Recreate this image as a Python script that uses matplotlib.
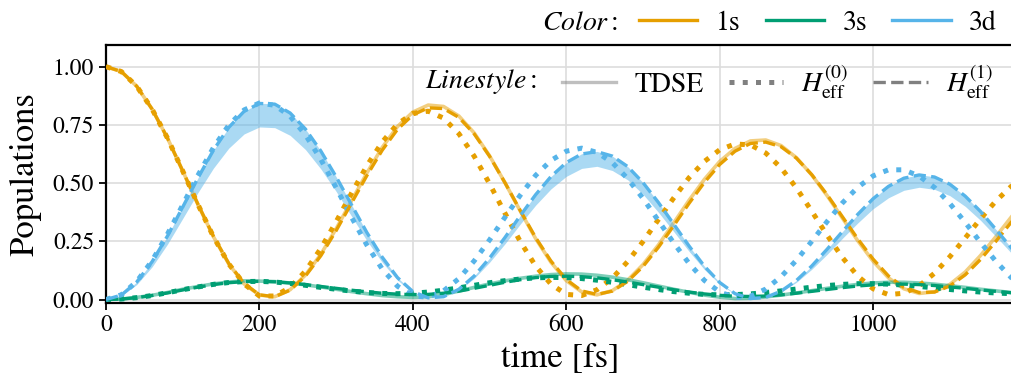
import numpy as np
import matplotlib
matplotlib.use("Agg")
from matplotlib import pyplot as plt
from matplotlib.lines import Line2D

plt.rcParams['font.family'] = 'serif'
plt.rcParams['font.serif'] = ['STIXGeneral', 'Liberation Serif', 'DejaVu Serif']
plt.rcParams['mathtext.fontset'] = 'stix'

# time grid [fs]
time_fs = np.arange(0, 1201, 20)

# 1s populations
pop_1s_tdse = [1.000, 0.979, 0.916, 0.818, 0.694, 0.552, 0.407, 0.270, 0.153, 0.067, 0.019,
               0.012, 0.042, 0.105, 0.194, 0.304, 0.424, 0.543, 0.653, 0.743, 0.805, 0.835,
               0.829, 0.788, 0.715, 0.617, 0.502, 0.380, 0.262, 0.160, 0.081, 0.033,
               0.020, 0.038, 0.083, 0.150, 0.234, 0.329, 0.426, 0.516, 0.593, 0.649, 0.681,
               0.685, 0.661, 0.609, 0.535, 0.446, 0.349, 0.252, 0.164, 0.093, 0.046, 0.026,
               0.033, 0.065, 0.118, 0.189, 0.270, 0.354, 0.435]
pop_1s_h0 = [1.000, 0.979, 0.916, 0.818, 0.694, 0.552, 0.407, 0.270, 0.153, 0.067, 0.015,
             0.015, 0.052, 0.122, 0.219, 0.334, 0.456, 0.574, 0.676, 0.754, 0.799,
             0.809, 0.779, 0.712, 0.615, 0.497, 0.371, 0.249, 0.144, 0.066, 0.022,
             0.017, 0.042, 0.092, 0.163, 0.249, 0.343, 0.436, 0.523, 0.593, 0.643, 0.668,
             0.664, 0.629, 0.565, 0.479, 0.379, 0.276, 0.180, 0.100, 0.046, 0.021,
             0.027, 0.059, 0.113, 0.184, 0.264, 0.347, 0.423, 0.486, 0.530]
pop_1s_h1 = [1.000, 0.979, 0.916, 0.818, 0.694, 0.552, 0.408, 0.272, 0.155, 0.069, 0.020,
             0.012, 0.040, 0.101, 0.188, 0.296, 0.414, 0.532, 0.641, 0.731, 0.793, 0.823,
             0.820, 0.782, 0.711, 0.615, 0.502, 0.382, 0.266, 0.165, 0.086, 0.037,
             0.022, 0.036, 0.078, 0.142, 0.224, 0.317, 0.413, 0.503, 0.580, 0.637, 0.670,
             0.676, 0.656, 0.607, 0.536, 0.450, 0.355, 0.260, 0.173, 0.101, 0.052, 0.030,
             0.032, 0.058, 0.106, 0.172, 0.250, 0.332, 0.413]

# 3s populations
pop_3s_tdse = [0.000, 0.002, 0.009, 0.018, 0.030, 0.044, 0.056, 0.067, 0.075, 0.080, 0.079,
               0.077, 0.071, 0.063, 0.054, 0.044, 0.034, 0.025, 0.017, 0.012, 0.009,
               0.012, 0.022, 0.036, 0.052, 0.067, 0.080, 0.091, 0.100, 0.107, 0.110,
               0.109, 0.104, 0.096, 0.085, 0.072, 0.058, 0.044, 0.031, 0.019, 0.010, 0.004,
               0.005, 0.011, 0.019, 0.028, 0.038, 0.048, 0.057, 0.065, 0.071, 0.074,
               0.074, 0.071, 0.066, 0.059, 0.052, 0.044, 0.037, 0.030, 0.024]
pop_3s_h0 = [0.000, 0.002, 0.008, 0.017, 0.029, 0.042, 0.054, 0.065, 0.073, 0.077, 0.078,
             0.075, 0.069, 0.061, 0.052, 0.044, 0.036, 0.030, 0.026, 0.025, 0.027,
             0.032, 0.040, 0.050, 0.061, 0.072, 0.081, 0.088, 0.093, 0.095, 0.094,
             0.090, 0.083, 0.074, 0.064, 0.053, 0.043, 0.034, 0.027, 0.022, 0.020, 0.021,
             0.024, 0.030, 0.037, 0.045, 0.053, 0.060, 0.065, 0.068, 0.068, 0.066,
             0.062, 0.056, 0.050, 0.043, 0.037, 0.032, 0.028, 0.025, 0.024]
pop_3s_h1 = [0.000, 0.002, 0.008, 0.017, 0.028, 0.041, 0.053, 0.064, 0.072, 0.077, 0.078,
             0.076, 0.071, 0.064, 0.056, 0.048, 0.040, 0.033, 0.027, 0.023, 0.021,
             0.022, 0.027, 0.036, 0.048, 0.061, 0.074, 0.085, 0.094, 0.099, 0.100,
             0.098, 0.093, 0.085, 0.075, 0.064, 0.053, 0.042, 0.032, 0.024, 0.018, 0.014,
             0.013, 0.015, 0.020, 0.027, 0.035, 0.043, 0.051, 0.058, 0.063, 0.066,
             0.066, 0.064, 0.060, 0.054, 0.048, 0.041, 0.035, 0.029, 0.024]

# 3d populations; TDSE oscillates fast, stored as upper/lower envelope
pop_3d_tdse_hi = [0.000, 0.019, 0.075, 0.162, 0.272, 0.397, 0.523, 0.641, 0.739, 0.808, 0.843,
                  0.840, 0.801, 0.732, 0.638, 0.527, 0.407, 0.288, 0.182, 0.094, 0.034, 0.007,
                  0.012, 0.044, 0.101, 0.178, 0.266, 0.360, 0.450, 0.528, 0.588, 0.626,
                  0.636, 0.616, 0.571, 0.502, 0.417, 0.324, 0.230, 0.143, 0.073, 0.025, 0.004,
                  0.009, 0.036, 0.082, 0.144, 0.216, 0.292, 0.366, 0.433, 0.486, 0.522, 0.536,
                  0.527, 0.495, 0.444, 0.378, 0.301, 0.222, 0.147]
pop_3d_tdse_lo = [0.000, 0.016, 0.064, 0.140, 0.237, 0.348, 0.460, 0.564, 0.650, 0.711, 0.741,
                  0.738, 0.705, 0.644, 0.561, 0.464, 0.358, 0.253, 0.160, 0.083, 0.030, 0.006,
                  0.011, 0.040, 0.091, 0.160, 0.239, 0.324, 0.405, 0.475, 0.529, 0.563,
                  0.572, 0.554, 0.514, 0.452, 0.375, 0.292, 0.207, 0.129, 0.066, 0.023, 0.004,
                  0.008, 0.032, 0.074, 0.130, 0.194, 0.263, 0.329, 0.390, 0.437, 0.469, 0.482,
                  0.473, 0.446, 0.400, 0.340, 0.271, 0.200, 0.132]
pop_3d_h0 = [0.000, 0.020, 0.077, 0.166, 0.280, 0.406, 0.534, 0.652, 0.749, 0.814, 0.844,
             0.834, 0.787, 0.707, 0.602, 0.480, 0.354, 0.234, 0.131, 0.057, 0.015,
             0.010, 0.037, 0.090, 0.166, 0.256, 0.353, 0.448, 0.533, 0.597, 0.637,
             0.650, 0.632, 0.588, 0.519, 0.434, 0.339, 0.243, 0.155, 0.082, 0.032, 0.009,
             0.014, 0.045, 0.098, 0.169, 0.250, 0.335, 0.415, 0.482, 0.531, 0.557,
             0.557, 0.530, 0.481, 0.412, 0.331, 0.245, 0.164, 0.094, 0.041]
pop_3d_h1 = [0.000, 0.019, 0.075, 0.162, 0.272, 0.397, 0.523, 0.641, 0.739, 0.808, 0.842,
             0.839, 0.801, 0.732, 0.638, 0.527, 0.407, 0.288, 0.182, 0.094, 0.034, 0.007,
             0.012, 0.044, 0.101, 0.178, 0.266, 0.360, 0.450, 0.528, 0.588, 0.625,
             0.635, 0.616, 0.571, 0.502, 0.417, 0.324, 0.230, 0.143, 0.073, 0.025, 0.004,
             0.009, 0.036, 0.082, 0.144, 0.216, 0.292, 0.366, 0.433, 0.486, 0.521, 0.535,
             0.526, 0.495, 0.444, 0.378, 0.301, 0.222, 0.147]

states = ['1s', '3s', '3d']
colors = {'1s': '#E69F00', '3s': '#009E73', '3d': '#56B4E9'}

W, H = 1012, 383
fig = plt.figure(figsize=(W / 100, H / 100), dpi=100)
ax = fig.add_axes([106 / W, 80 / H, 0.8983, 258 / H])

lw_tdse = 2.6
lw_dot = 3.6
lw_dash = 2.4

ax.plot(time_fs, pop_1s_tdse, color=colors['1s'], lw=lw_tdse, alpha=0.5, zorder=2)
ax.plot(time_fs, pop_3s_tdse, color=colors['3s'], lw=lw_tdse, alpha=0.5, zorder=2)
ax.fill_between(time_fs, pop_3d_tdse_lo, pop_3d_tdse_hi, color=colors['3d'],
                alpha=0.5, lw=0, zorder=2)

for pops, c in [(pop_1s_h0, '1s'), (pop_3s_h0, '3s'), (pop_3d_h0, '3d')]:
    ax.plot(time_fs, pops, color=colors[c], lw=lw_dot, ls=':', zorder=3)
for pops, c in [(pop_1s_h1, '1s'), (pop_3s_h1, '3s'), (pop_3d_h1, '3d')]:
    ax.plot(time_fs, pops, color=colors[c], lw=lw_dash, ls='--', zorder=4)

ax.set_xlim(0, 1185)
ax.set_ylim(-0.015, 1.093)
ax.set_xticks([0, 200, 400, 600, 800, 1000])
ax.set_yticks([0, 0.25, 0.5, 0.75, 1.0])
ax.set_yticklabels(['0.00', '0.25', '0.50', '0.75', '1.00'])
ax.tick_params(labelsize=17, width=1.3, length=5)
ax.grid(color='#dddddd', lw=1.2)
ax.set_axisbelow(True)
for s in ax.spines.values():
    s.set_linewidth(1.6)

ax.set_xlabel('time [fs]', fontsize=25, labelpad=4)
ax.set_ylabel('Populations', fontsize=25, labelpad=8)

leg_kw = dict(ncol=3, frameon=False, fontsize=20, handletextpad=0.67,
              columnspacing=0.9, borderpad=0, borderaxespad=0)

# legend for the colours (outside, above the axes)
color_handles = [Line2D([], [], color=colors[s], lw=2.4) for s in states]
fig.legend(color_handles, states, loc='center right', handlelength=2.1,
           bbox_to_anchor=(997 / W, 1 - 23 / H), **leg_kw)
fig.text(618 / W, 1 - 23 / H, '$Color:$', fontsize=20, ha='right', va='center')

# legend for the line styles (inside the axes)
style_handles = [Line2D([], [], color='gray', lw=2.4, alpha=0.5),
                 Line2D([], [], color='gray', lw=lw_dot, ls=':'),
                 Line2D([], [], color='gray', lw=lw_dash, ls='--')]
style_labels = ['TDSE', r'$H_{\rm eff}^{(0)}$', r'$H_{\rm eff}^{(1)}$']
ax.legend(style_handles, style_labels, loc='center right', handlelength=1.95,
          bbox_to_anchor=(993 / W, 1 - 82 / H), bbox_transform=fig.transFigure, **leg_kw)
fig.text(537 / W, 1 - 82 / H, '$Linestyle:$', fontsize=20, ha='right', va='center')

fig.savefig('out.png', dpi=100)
